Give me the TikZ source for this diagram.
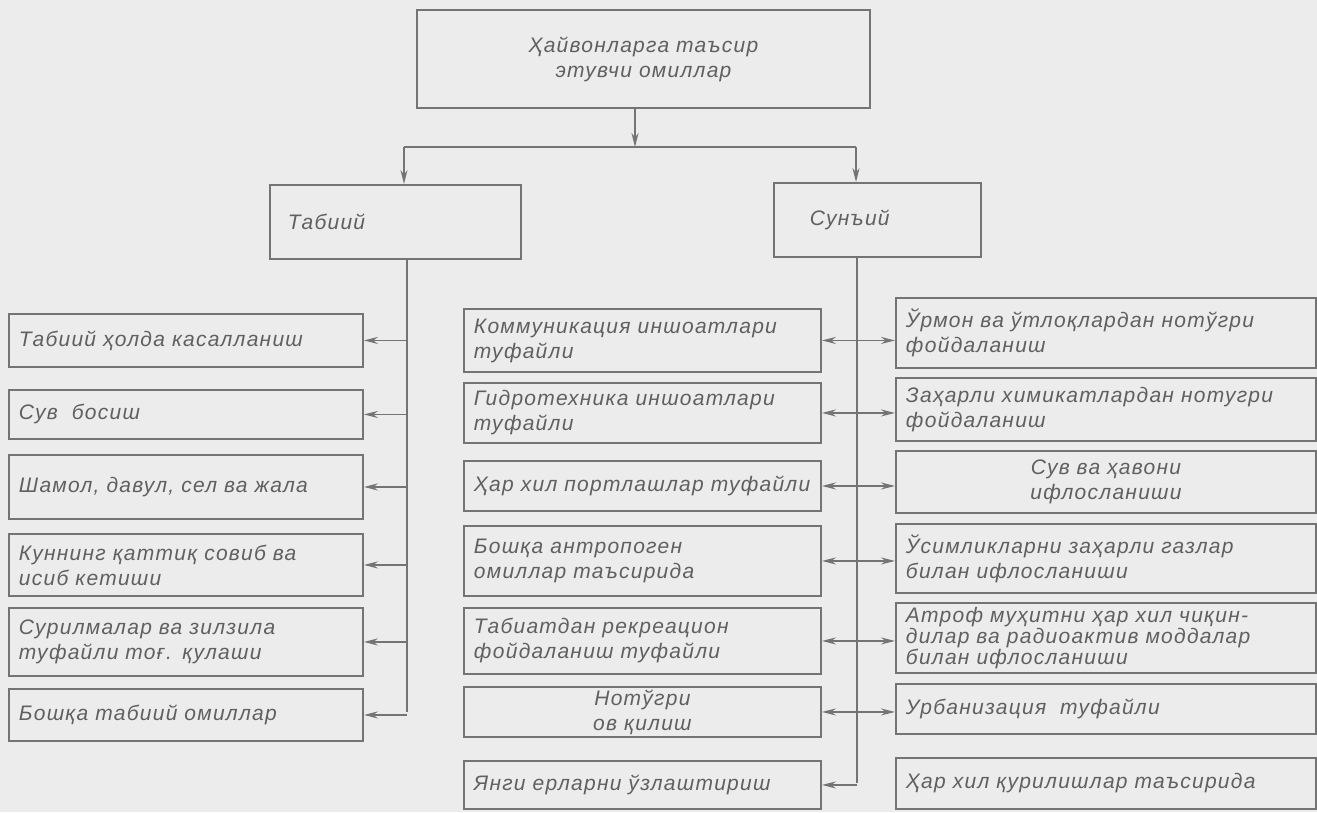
\documentclass[tikz,border=0pt]{standalone}
\usepackage{fontspec}
\usetikzlibrary{arrows.meta}
\newfontfamily\hw[LetterSpace=6]{Liberation Sans}
\definecolor{bg}{HTML}{ECECEC}
\definecolor{ln}{HTML}{747474}
\definecolor{tx}{HTML}{606060}
\tikzset{
  x=1pt, y=-1pt,
  bx/.style={draw=ln, line width=1.9pt, rectangle, anchor=north west, inner xsep=10pt, inner ysep=2pt,
    align=left, text=tx, font=\hw\itshape\fontsize{21}{25}\selectfont},
  cn/.style={draw=ln, line width=1.8pt},
  ar/.style={cn, -{Stealth[length=14pt,width=7pt]}}
}
\begin{document}
\begin{tikzpicture}
\fill[bg] (0,0) rectangle (1317,812);
\useasboundingbox (0,0) rectangle (1317,812);
% top
\node[bx, align=center, text width=433pt, minimum height=98pt] (top) at (416,9) {Ҳайвонларга таъсир\\этувчи омиллар};
\node[bx, inner xsep=18pt, text width=215pt, minimum height=74pt] (tab) at (269,184) {Табиий};
\node[bx, inner xsep=36pt, text width=135pt, minimum height=74pt] (sun) at (773,182) {Сунъий};
% left column
\node[bx, text width=334pt, minimum height=53pt] (L1) at (8,313) {Табиий ҳолда касалланиш};
\node[bx, text width=334pt, minimum height=49pt] (L2) at (8,389) {Сув\ \ босиш};
\node[bx, text width=334pt, minimum height=64pt] (L3) at (8,454) {Шамол, давул, сел ва жала};
\node[bx, text width=334pt, minimum height=62pt] (L4) at (8,533) {Куннинг қаттиқ совиб ва\\исиб кетиши};
\node[bx, text width=334pt, minimum height=68pt] (L5) at (8,607) {Сурилмалар ва зилзила\\туфайли тоғ. қулаши};
\node[bx, text width=334pt, minimum height=52pt] (L6) at (8,688) {Бошқа табиий омиллар};
% middle column
\node[bx, text width=337pt, minimum height=63pt] (M1) at (463,308) {Коммуникация\ иншоатлари\\туфайли};
\node[bx, text width=337pt, minimum height=60pt] (M2) at (463,382) {Гидротехника\ иншоатлари\\туфайли};
\node[bx, text width=337pt, minimum height=50pt] (M3) at (463,460) {Ҳар хил портлашлар туфайли};
\node[bx, text width=337pt, minimum height=70pt] (M4) at (463,525) {Бошқа антропоген\\омиллар таъсирида};
\node[bx, text width=337pt, minimum height=66pt] (M5) at (463,607) {Табиатдан\ рекреацион\\фойдаланиш туфайли};
\node[bx, align=center, text width=337pt, minimum height=50pt] (M6) at (463,686) {Нотўгри\\ов қилиш};
\node[bx, text width=337pt, minimum height=48pt] (M7) at (463,760) {Янги ерларни ўзлаштириш};
% right column
\node[bx, text width=400pt, minimum height=70pt] (R1) at (895,297) {Ўрмон ва ўтлоқлардан нотўгри\\фойдаланиш};
\node[bx, text width=400pt, minimum height=63pt] (R2) at (895,377) {Заҳарли химикатлардан нотугри\\фойдаланиш};
\node[bx, align=center, text width=400pt, minimum height=62pt] (R3) at (895,450) {Сув ва ҳавони\\ифлосланиши};
\node[bx, text width=400pt, minimum height=69pt] (R4) at (895,523) {Ўсимликларни заҳарли газлар\\билан ифлосланиши};
\node[bx, text width=400pt, minimum height=70pt, font=\hw\itshape\fontsize{21}{21}\selectfont] (R5) at (895,602) {Атроф муҳитни ҳар хил чиқин-\\дилар ва радиоактив моддалар\\билан ифлосланиши};
\node[bx, text width=400pt, minimum height=50pt] (R6) at (895,683) {Урбанизация\ \ туфайли};
\node[bx, text width=400pt, minimum height=51pt] (R7) at (895,757) {Ҳар хил қурилишлар таъсирида};
% top connectors
\coordinate (j) at (635,147);
\coordinate (jl) at (404,147);
\coordinate (jr) at (856,147);
\draw[ar] (top.south -| j) -- (j);
\draw[cn] (jl) -- (jr);
\draw[ar] (jl) -- (tab.north -| jl);
\draw[ar] (jr) -- (sun.north -| jr);
% left trunk
\coordinate (lt) at (407,712);
\draw[cn] (tab.south -| lt) -- (lt);
\foreach \b in {L1,L2,L3,L4,L5,L6} {\draw[ar] (\b.east -| lt) -- (\b.east);}
% right trunk
\coordinate (rt) at (857,783);
\draw[cn] (sun.south -| rt) -- (rt);
\foreach \m/\r in {M1/R1,M2/R2,M3/R3,M4/R4,M5/R5,M6/R6} {
  \draw[ar] (\m.east -| rt) -- (\m.east);
  \draw[ar] (\m.east -| rt) -- (\r.west |- \m.east);
}
\draw[ar] (M7.east -| rt) -- (M7.east);
\end{tikzpicture}
\end{document}
